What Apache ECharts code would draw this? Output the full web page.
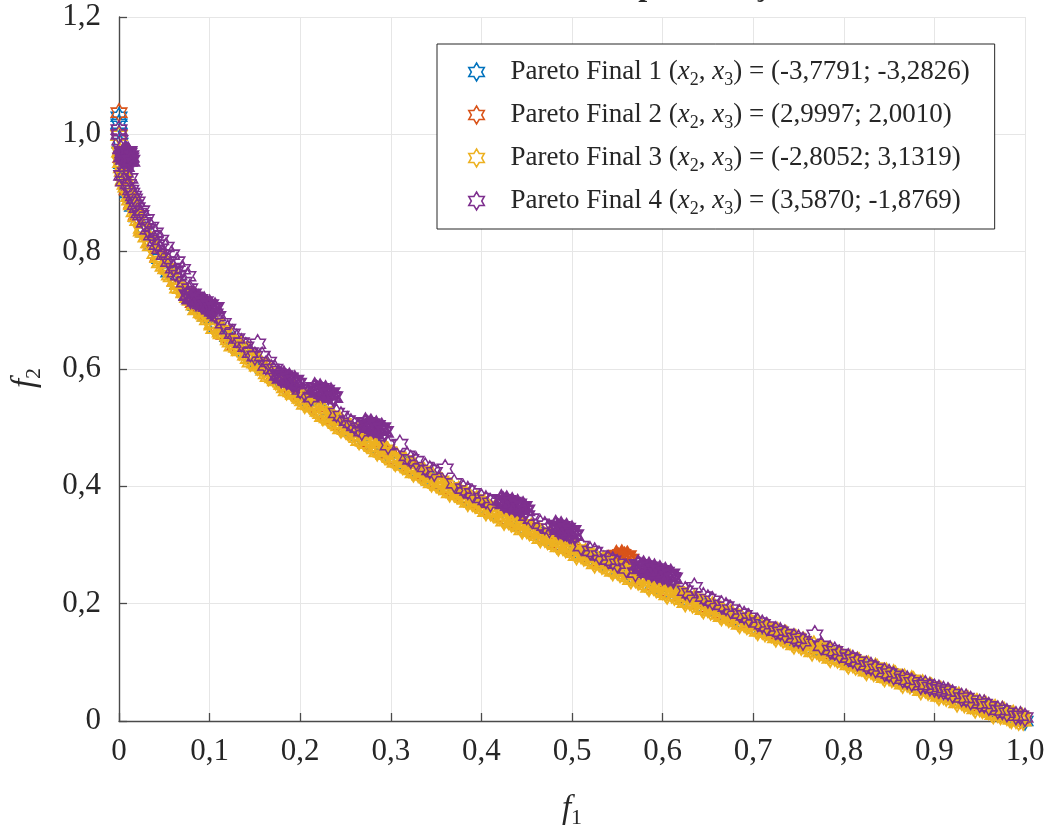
<!DOCTYPE html>
<html>
<head>
<meta charset="utf-8">
<script src="https://cdn.jsdelivr.net/npm/echarts@6/dist/echarts.min.js"></script>
<style>
html,body{margin:0;padding:0;background:#fff;}
#chart{width:1051px;height:832px;}
</style>
</head>
<body>
<div id="chart"></div>
<script>
// ---- data ----
const titleText = 'Frente de Pareto da aproximação';
const xTickLabels = ['0','0,1','0,2','0,3','0,4','0,5','0,6','0,7','0,8','0,9','1,0'];
const yTickLabels = ['0','0,2','0,4','0,6','0,8','1,0','1,2'];
const x2Values = ['-3,7791','2,9997','-2,8052','3,5870'];
const x3Values = ['-3,2826','2,0010','3,1319','-1,8769'];
const seriesColors = ['#0072BD','#D95319','#EDB120','#7E2F8E'];

const s1 = [[0,1.030],[0,1.018],[0.001,0.985],[0.003,0.95],[0.006,0.925],[0.01,0.9],[0.015,0.877],[0.02,0.859],[0.028,0.833],[0.036,0.81],[0.045,0.788],[0.055,0.765],[0.065,0.745],[0.075,0.726],[0.085,0.708],[0.096,0.69],[0.108,0.671],[0.12,0.655],[0.133,0.635],[0.146,0.618],[0.16,0.6],[0.175,0.582],[0.19,0.564],[0.205,0.548],[0.22,0.531],[0.235,0.516],[0.25,0.5],[0.265,0.486],[0.28,0.471],[0.295,0.457],[0.31,0.443],[0.325,0.43],[0.34,0.417],[0.355,0.404],[0.37,0.392],[0.385,0.38],[0.4,0.368],[0.415,0.356],[0.43,0.344],[0.445,0.333],[0.46,0.322],[0.475,0.311],[0.49,0.3],[0.505,0.29],[0.52,0.279],[0.535,0.269],[0.55,0.258],[0.565,0.249],[0.58,0.238],[0.595,0.229],[0.61,0.219],[0.625,0.21],[0.64,0.2],[0.655,0.191],[0.67,0.181],[0.685,0.172],[0.7,0.163],[0.715,0.154],[0.73,0.146],[0.745,0.137],[0.76,0.128],[0.775,0.12],[0.79,0.111],[0.805,0.103],[0.82,0.094],[0.835,0.086],[0.85,0.078],[0.865,0.07],[0.88,0.062],[0.895,0.054],[0.91,0.046],[0.925,0.039],[0.94,0.03],[0.955,0.023],[0.97,0.015],[0.985,0.008],[1.0,0.0]];

const s2 = [[0,1.037],[0.002,0.96],[0.005,0.93],[0.009,0.905],[0.014,0.882],[0.019,0.862],[0.026,0.838],[0.034,0.815],[0.043,0.792],[0.052,0.771],[0.062,0.75],[0.072,0.731],[0.082,0.713],[0.093,0.695],[0.104,0.677],[0.116,0.659],[0.128,0.641],[0.141,0.624],[0.155,0.606],[0.17,0.587],[0.185,0.57],[0.2,0.553],[0.215,0.536],[0.23,0.52],[0.245,0.505],[0.26,0.49],[0.275,0.475],[0.29,0.461],[0.305,0.447],[0.32,0.434],[0.335,0.421],[0.35,0.408],[0.365,0.396],[0.38,0.384],[0.395,0.372],[0.41,0.36],[0.425,0.348],[0.44,0.337],[0.455,0.325],[0.47,0.314],[0.485,0.303],[0.5,0.293],[0.515,0.282],[0.53,0.272],[0.548,0.278],[0.551,0.279],[0.555,0.28],[0.558,0.281],[0.562,0.276],[0.575,0.242],[0.59,0.232],[0.605,0.222],[0.62,0.213],[0.635,0.203],[0.65,0.194],[0.665,0.184],[0.68,0.175],[0.695,0.166],[0.71,0.157],[0.725,0.148],[0.74,0.14],[0.755,0.131],[0.77,0.123],[0.785,0.114],[0.8,0.106],[0.815,0.097],[0.83,0.089],[0.845,0.081],[0.86,0.073],[0.875,0.065],[0.89,0.057],[0.905,0.049],[0.92,0.041],[0.935,0.033],[0.95,0.025],[0.965,0.018],[0.98,0.01],[0.995,0.003]];

const s2clump = [[0.549,0.282],[0.552,0.276],[0.555,0.283],[0.558,0.277],[0.561,0.281],[0.564,0.275]];

const s3 = [[0,0.998],[0.001,0.97],[0.002,0.952],[0.004,0.937],[0.006,0.921],[0.008,0.91],[0.011,0.894],[0.014,0.88],[0.017,0.868],[0.021,0.853],[0.025,0.84],[0.03,0.825],[0.035,0.81],[0.04,0.797],[0.046,0.784],[0.052,0.771],[0.058,0.757],[0.065,0.744],[0.072,0.73],[0.079,0.717],[0.087,0.703],[0.095,0.69],[0.103,0.677],[0.112,0.663],[0.121,0.65],[0.13,0.637],[0.14,0.624],[0.15,0.61],[0.16,0.598],[0.17,0.585],[0.18,0.574],[0.19,0.561],[0.2,0.55],[0.21,0.539],[0.22,0.528],[0.23,0.517],[0.24,0.507],[0.25,0.497],[0.26,0.488],[0.27,0.477],[0.28,0.468],[0.29,0.458],[0.3,0.449],[0.31,0.44],[0.32,0.431],[0.33,0.423],[0.34,0.414],[0.35,0.405],[0.36,0.397],[0.37,0.389],[0.38,0.381],[0.39,0.373],[0.4,0.366],[0.41,0.357],[0.42,0.35],[0.43,0.342],[0.44,0.335],[0.45,0.327],[0.46,0.32],[0.47,0.312],[0.48,0.305],[0.49,0.298],[0.5,0.291],[0.51,0.284],[0.52,0.277],[0.53,0.27],[0.54,0.263],[0.55,0.256],[0.56,0.25],[0.57,0.243],[0.58,0.236],[0.59,0.23],[0.6,0.223],[0.61,0.217],[0.62,0.211],[0.63,0.204],[0.64,0.198],[0.65,0.192],[0.66,0.186],[0.67,0.179],[0.68,0.173],[0.69,0.167],[0.7,0.161],[0.71,0.155],[0.72,0.149],[0.73,0.144],[0.74,0.138],[0.75,0.132],[0.76,0.126],[0.77,0.121],[0.78,0.115],[0.79,0.109],[0.8,0.104],[0.81,0.098],[0.82,0.092],[0.83,0.087],[0.84,0.081],[0.85,0.076],[0.86,0.071],[0.87,0.065],[0.88,0.06],[0.89,0.055],[0.9,0.049],[0.91,0.044],[0.92,0.039],[0.93,0.034],[0.94,0.028],[0.95,0.023],[0.96,0.018],[0.97,0.013],[0.98,0.008],[0.99,0.003],[0.998,0.0]];

const s3b = [[0.005,0.922],[0.015,0.883],[0.025,0.835],[0.035,0.818],[0.045,0.781],[0.055,0.77],[0.065,0.738],[0.075,0.731],[0.085,0.701],[0.095,0.697],[0.105,0.669],[0.115,0.666],[0.125,0.639],[0.135,0.638],[0.145,0.612],[0.155,0.611],[0.165,0.587],[0.175,0.587],[0.185,0.563],[0.195,0.563],[0.205,0.54],[0.215,0.541],[0.225,0.519],[0.235,0.52],[0.245,0.498],[0.255,0.5],[0.265,0.478],[0.275,0.481],[0.285,0.459],[0.295,0.462],[0.305,0.441],[0.315,0.444],[0.325,0.423],[0.335,0.426],[0.345,0.406],[0.355,0.409],[0.365,0.389],[0.375,0.393],[0.385,0.373],[0.395,0.377],[0.405,0.357],[0.415,0.361],[0.425,0.341],[0.435,0.345],[0.445,0.326],[0.455,0.33],[0.465,0.311],[0.475,0.316],[0.485,0.297],[0.495,0.301],[0.505,0.282],[0.515,0.287],[0.525,0.268],[0.535,0.274],[0.545,0.255],[0.555,0.26],[0.565,0.241],[0.575,0.247],[0.585,0.228],[0.595,0.234],[0.605,0.215],[0.615,0.221],[0.625,0.202],[0.635,0.208],[0.645,0.19],[0.655,0.196],[0.665,0.178],[0.675,0.183],[0.685,0.165],[0.695,0.171],[0.705,0.153],[0.715,0.159],[0.725,0.142],[0.735,0.148],[0.745,0.13],[0.755,0.136],[0.765,0.118],[0.775,0.125],[0.785,0.107],[0.795,0.113],[0.805,0.096],[0.815,0.102],[0.825,0.085],[0.835,0.091],[0.845,0.074],[0.855,0.08],[0.865,0.063],[0.875,0.07],[0.885,0.052],[0.895,0.059],[0.905,0.042],[0.915,0.048],[0.925,0.031],[0.935,0.038],[0.945,0.021],[0.955,0.028],[0.965,0.011],[0.975,0.018],[0.985,0.003],[0.995,0.008]];

const s3c = [[0.003,0.943],[0.007,0.915],[0.012,0.888],[0.019,0.86],[0.027,0.833],[0.033,0.815],[0.043,0.79],[0.049,0.775],[0.056,0.76],[0.062,0.749],[0.068,0.737],[0.076,0.722],[0.083,0.709],[0.091,0.696],[0.098,0.684],
[0.103,0.675],[0.107,0.677],[0.113,0.66],[0.117,0.662],[0.123,0.646],[0.127,0.647],[0.133,0.631],[0.137,0.634],[0.143,0.618],[0.147,0.621],[0.153,0.605],[0.157,0.608],[0.163,0.592],[0.167,0.596],[0.173,0.58],[0.177,0.584],[0.183,0.568],[0.187,0.572],[0.193,0.557],[0.197,0.56],
[0.203,0.546],[0.207,0.549],[0.213,0.535],[0.217,0.538],[0.223,0.524],[0.227,0.527],[0.233,0.513],[0.237,0.517],[0.243,0.503],[0.247,0.507],[0.253,0.493],[0.257,0.497],[0.263,0.483],[0.267,0.487],[0.273,0.473],[0.277,0.478],[0.283,0.464],[0.287,0.468],[0.293,0.454],[0.297,0.459],
[0.303,0.445],[0.307,0.45],[0.313,0.436],[0.317,0.441],[0.323,0.428],[0.327,0.432],[0.333,0.419],[0.337,0.424],[0.343,0.41],[0.347,0.415],[0.353,0.402],[0.357,0.406],[0.363,0.394],[0.367,0.398],[0.373,0.386],[0.377,0.39],[0.383,0.378],[0.387,0.382],[0.393,0.37],[0.397,0.374],
[0.403,0.362],[0.407,0.366],[0.413,0.354],[0.417,0.358],[0.423,0.346],[0.427,0.35],[0.433,0.338],[0.437,0.343],[0.443,0.331],[0.447,0.335],[0.453,0.323],[0.457,0.328],[0.463,0.316],[0.467,0.32],[0.473,0.308],[0.477,0.313],[0.483,0.301],[0.487,0.306],[0.493,0.294],[0.497,0.299],
[0.503,0.287],[0.507,0.292],[0.513,0.28],[0.517,0.285],[0.523,0.273],[0.527,0.278],[0.533,0.266],[0.537,0.271],[0.543,0.259],[0.547,0.264],[0.553,0.252],[0.557,0.258],[0.563,0.246],[0.567,0.251],[0.573,0.239],[0.577,0.244],[0.583,0.232],[0.587,0.238],[0.593,0.226],[0.597,0.231],
[0.603,0.219],[0.607,0.225],[0.613,0.213],[0.617,0.219],[0.623,0.207],[0.627,0.212],[0.633,0.2],[0.637,0.206],[0.643,0.194],[0.647,0.2],[0.653,0.188],[0.657,0.194],[0.663,0.182],[0.667,0.187],[0.673,0.175],[0.677,0.181],[0.683,0.169],[0.687,0.175],[0.693,0.163],[0.697,0.169],
[0.703,0.157],[0.707,0.163],[0.713,0.151],[0.717,0.157],[0.723,0.146],[0.727,0.152],[0.733,0.14],[0.737,0.146],[0.743,0.134],[0.747,0.14],[0.753,0.128],[0.757,0.134],[0.763,0.123],[0.767,0.129],[0.773,0.117],[0.777,0.123],[0.783,0.111],[0.787,0.117],[0.793,0.106],[0.797,0.111],
[0.803,0.1],[0.807,0.106],[0.813,0.094],[0.817,0.1],[0.823,0.089],[0.827,0.095],[0.833,0.083],[0.837,0.089],[0.843,0.078],[0.847,0.083],[0.853,0.073],[0.857,0.078],[0.863,0.067],[0.867,0.073],[0.873,0.062],[0.877,0.068],[0.883,0.057],[0.887,0.063],[0.893,0.051],[0.897,0.057],
[0.903,0.046],[0.907,0.052],[0.913,0.041],[0.917,0.047],[0.923,0.036],[0.927,0.042],[0.933,0.03],[0.937,0.036],[0.943,0.025],[0.947,0.031],[0.953,0.02],[0.957,0.026],[0.963,0.015],[0.967,0.021],[0.973,0.01],[0.977,0.016],[0.983,0.005],[0.987,0.011],[0.993,0.0],[0.997,0.006]];

const s4 = [[0,1.008],[0,1.0],[0.001,0.99],[0.002,0.975],[0.004,0.968],[0.006,0.964],[0.008,0.96],[0.01,0.958],[0.012,0.955],[0.009,0.966],[0.011,0.962],[0.005,0.966],[0.007,0.962],[0.009,0.956],[0.011,0.968],[0.013,0.96],[0.014,0.9],[0.017,0.89],[0.02,0.875],[0.024,0.862],[0.028,0.85],[0.032,0.838],[0.036,0.828],[0.04,0.818],[0.045,0.805],[0.05,0.795],[0.055,0.783],[0.06,0.772],[0.066,0.76],[0.072,0.748],[0.078,0.737],[0.082,0.728],[0.085,0.722],[0.088,0.718],[0.091,0.714],[0.094,0.71],[0.097,0.706],[0.1,0.702],[0.103,0.698],[0.106,0.694],[0.109,0.69],[0.115,0.678],[0.12,0.668],[0.125,0.66],[0.13,0.652],[0.135,0.645],[0.14,0.638],[0.153,0.643],[0.158,0.622],[0.165,0.612],[0.172,0.6],[0.178,0.588],[0.182,0.585],[0.186,0.582],[0.19,0.579],[0.194,0.576],[0.205,0.56],[0.212,0.552],[0.218,0.565],[0.221,0.563],[0.224,0.562],[0.227,0.56],[0.23,0.558],[0.233,0.556],[0.236,0.553],[0.245,0.52],[0.252,0.512],[0.26,0.503],[0.268,0.494],[0.274,0.505],[0.277,0.503],[0.279,0.502],[0.282,0.5],[0.284,0.499],[0.287,0.497],[0.289,0.496],[0.297,0.47],[0.31,0.472],[0.318,0.452],[0.328,0.443],[0.338,0.433],[0.348,0.424],[0.36,0.43],[0.37,0.405],[0.38,0.396],[0.39,0.388],[0.4,0.38],[0.41,0.372],[0.424,0.375],[0.427,0.373],[0.429,0.372],[0.432,0.37],[0.434,0.369],[0.437,0.367],[0.439,0.366],[0.442,0.364],[0.444,0.363],[0.455,0.345],[0.465,0.336],[0.475,0.328],[0.484,0.33],[0.487,0.328],[0.489,0.326],[0.492,0.324],[0.494,0.322],[0.497,0.32],[0.499,0.318],[0.51,0.298],[0.52,0.29],[0.53,0.282],[0.54,0.275],[0.55,0.268],[0.56,0.26],[0.57,0.253],[0.576,0.263],[0.578,0.262],[0.581,0.26],[0.584,0.258],[0.587,0.257],[0.59,0.255],[0.593,0.254],[0.596,0.252],[0.599,0.251],[0.602,0.249],[0.605,0.248],[0.608,0.246],[0.611,0.245],[0.625,0.222],[0.635,0.228],[0.645,0.212],[0.655,0.205],[0.665,0.198],[0.675,0.19],[0.685,0.183],[0.695,0.176],[0.705,0.168],[0.715,0.161],[0.725,0.154],[0.735,0.148],[0.745,0.142],[0.755,0.136],[0.768,0.147],[0.775,0.128],[0.785,0.121],[0.795,0.114],[0.805,0.108],[0.815,0.101],[0.825,0.095],[0.835,0.089],[0.845,0.083],[0.855,0.077],[0.865,0.072],[0.875,0.066],[0.885,0.061],[0.895,0.058],[0.9,0.056],[0.905,0.054],[0.91,0.052],[0.92,0.046],[0.93,0.04],[0.94,0.035],[0.95,0.03],[0.96,0.025],[0.97,0.019],[0.98,0.014],[0.99,0.009],[1.0,0.006]];

const s4b = [[0.003,0.93],[0.005,0.92],[0.007,0.935],[0.008,0.945],[0.01,0.915],[0.012,0.925],[0.013,0.905],[0.016,0.895],[0.018,0.88],[0.02,0.885],[0.022,0.866],[0.025,0.87],[0.03,0.855],[0.035,0.842],[0.04,0.832],[0.042,0.812],[0.046,0.82],[0.052,0.808],[0.058,0.795],[0.062,0.765],[0.064,0.783],[0.07,0.77],[0.076,0.758],[0.145,0.628],[0.15,0.622],[0.162,0.606],[0.168,0.6],[0.2,0.565],[0.24,0.525],[0.256,0.508],[0.264,0.5],[0.322,0.446],[0.343,0.428],[0.385,0.393],[0.405,0.377],[0.45,0.35],[0.47,0.333],[0.525,0.288],[0.545,0.273],[0.63,0.218],[0.65,0.208],[0.67,0.195],[0.69,0.18],[0.71,0.165],[0.73,0.152],[0.75,0.14],[0.79,0.119],[0.81,0.105],[0.83,0.093],[0.85,0.081],[0.87,0.07],[0.89,0.062],[0.915,0.05],[0.935,0.039],[0.955,0.029],[0.975,0.018],[0.995,0.009]];

const s4clump = [[0.004,0.962],[0.006,0.958],[0.008,0.968],[0.01,0.955],[0.012,0.963],[0.006,0.97],[0.01,0.97],[0.013,0.955],
[0.076,0.726],[0.079,0.72],[0.082,0.722],[0.085,0.716],[0.088,0.718],[0.091,0.712],[0.094,0.714],[0.097,0.708],[0.1,0.709],[0.103,0.703],[0.106,0.704],
[0.176,0.59],[0.179,0.585],[0.182,0.588],[0.185,0.582],[0.188,0.584],[0.191,0.578],[0.194,0.58],[0.197,0.575],
[0.216,0.568],[0.219,0.562],[0.222,0.566],[0.225,0.559],[0.228,0.563],[0.231,0.556],[0.234,0.559],[0.237,0.552],
[0.272,0.508],[0.275,0.502],[0.278,0.506],[0.281,0.499],[0.284,0.503],[0.287,0.496],[0.29,0.499],[0.293,0.493],
[0.422,0.377],[0.425,0.371],[0.428,0.375],[0.431,0.368],[0.434,0.372],[0.437,0.365],[0.44,0.369],[0.443,0.362],[0.446,0.365],[0.449,0.359],
[0.482,0.333],[0.485,0.327],[0.488,0.331],[0.491,0.324],[0.494,0.328],[0.497,0.32],[0.5,0.324],[0.503,0.317],
[0.573,0.266],[0.576,0.26],[0.579,0.264],[0.582,0.257],[0.585,0.262],[0.588,0.254],[0.591,0.259],[0.594,0.251],[0.597,0.256],[0.6,0.249],[0.603,0.253],[0.606,0.246],[0.609,0.25],[0.612,0.243]];

// ---- chart ----
const SERIF = '"Liberation Serif","Times New Roman",serif';
const TXT = '#262626';
const HEX = 'path://M0,-100L28.87,-50L86.6,-50L57.7,0L86.6,50L28.87,50L0,100L-28.87,50L-86.6,50L-57.7,0L-86.6,-50L-28.87,-50Z';
const seriesNames = x2Values.map((v, i) => 'Pareto Final ' + (i + 1) + ' (x2, x3) = (' + v + '; ' + x3Values[i] + ')');

// layers: [data, series index, border width, z]
const layers = [
  [s1, 0, 1.5, 2],
  [s2, 1, 1.5, 3],
  [s2clump, 1, 2.6, 3],
  [s3.concat(s3b, s3c), 2, 1.8, 4],
  [s4b.concat(s4), 3, 1.5, 5],
  [s4clump, 3, 2.6, 6]
];

function tickFmt(labels, step) {
  return function (v) {
    const i = Math.round(v / step);
    return labels[i] !== undefined ? labels[i] : '';
  };
}

const chart = echarts.init(document.getElementById('chart'), null, {renderer: 'canvas'});

const nameRich = {
  i: {fontFamily: SERIF, fontStyle: 'italic', fontSize: 33, lineHeight: 40, color: TXT},
  s: {fontFamily: SERIF, fontSize: 22, lineHeight: 22, padding: [18, 0, 0, 0], color: TXT}
};

const option = {
  animation: false,
  backgroundColor: '#ffffff',
  grid: {left: 119, right: 26, top: 17, bottom: 111, containLabel: false, outerBoundsMode: 'none'},
  graphic: [{
    type: 'text', x: 572, y: -13.5, silent: true,
    style: {text: titleText, font: 'bold 32px ' + SERIF, fill: TXT, align: 'center', verticalAlign: 'middle'}
  }],
  xAxis: {
    type: 'value', min: 0, max: 1, interval: 0.1,
    name: '{i|f}{s|1}', nameLocation: 'middle', nameGap: 68,
    nameTextStyle: {rich: nameRich},
    axisLine: {show: true, onZero: false, lineStyle: {color: '#4a4a4a', width: 1.4}},
    axisTick: {show: true, inside: true, length: 8, lineStyle: {color: '#4a4a4a', width: 1.3}},
    axisLabel: {formatter: tickFmt(xTickLabels, 0.1), fontFamily: SERIF, fontSize: 31, color: TXT, margin: 15},
    splitLine: {show: true, lineStyle: {color: '#e6e6e6', width: 1}}
  },
  yAxis: {
    type: 'value', min: 0, max: 1.2, interval: 0.2,
    name: '{i|f}{s|2}', nameLocation: 'middle', nameGap: 74,
    nameTextStyle: {rich: nameRich, padding: [0, 18, 0, 0]},
    axisLine: {show: true, onZero: false, lineStyle: {color: '#4a4a4a', width: 1.4}},
    axisTick: {show: true, inside: true, length: 8, lineStyle: {color: '#4a4a4a', width: 1.3}},
    axisLabel: {formatter: tickFmt(yTickLabels, 0.2), fontFamily: SERIF, fontSize: 31, color: TXT, margin: 18},
    splitLine: {show: true, lineStyle: {color: '#e6e6e6', width: 1}}
  },
  legend: {
    show: true, orient: 'vertical', left: 437, top: 44,
    data: seriesNames,
    icon: HEX, symbolKeepAspect: true,
    itemWidth: 58, itemHeight: 18, itemGap: 9,
    padding: [11, 25, 11, 31],
    borderColor: '#262626', borderWidth: 1, backgroundColor: '#ffffff', borderRadius: 0,
    selectedMode: false,
    itemStyle: {borderWidth: 1.5},
    formatter: function (name) {
      const i = seriesNames.indexOf(name);
      return '{n|Pareto Final ' + (i + 1) + ' (}{i|x}{s|2}{n|, }{i|x}{s|3}{n|) = (' + x2Values[i] + '; ' + x3Values[i] + ')}';
    },
    textStyle: {
      fontFamily: SERIF, fontSize: 27, color: TXT,
      rich: {
        n: {fontFamily: SERIF, fontSize: 27, lineHeight: 34, color: TXT},
        i: {fontFamily: SERIF, fontSize: 27, lineHeight: 34, fontStyle: 'italic', color: TXT},
        s: {fontFamily: SERIF, fontSize: 18, lineHeight: 18, padding: [16, 0, 0, 0], color: TXT}
      }
    }
  },
  series: layers.map(([d, k, bw, z]) => ({
    type: 'scatter',
    name: seriesNames[k],
    data: d,
    symbol: HEX,
    symbolSize: [15.6, 18],
    itemStyle: {color: 'rgba(255,255,255,0)', borderColor: seriesColors[k], borderWidth: bw, opacity: 1},
    emphasis: {disabled: true},
    z: z
  }))
};

chart.setOption(option);
</script>
</body>
</html>
